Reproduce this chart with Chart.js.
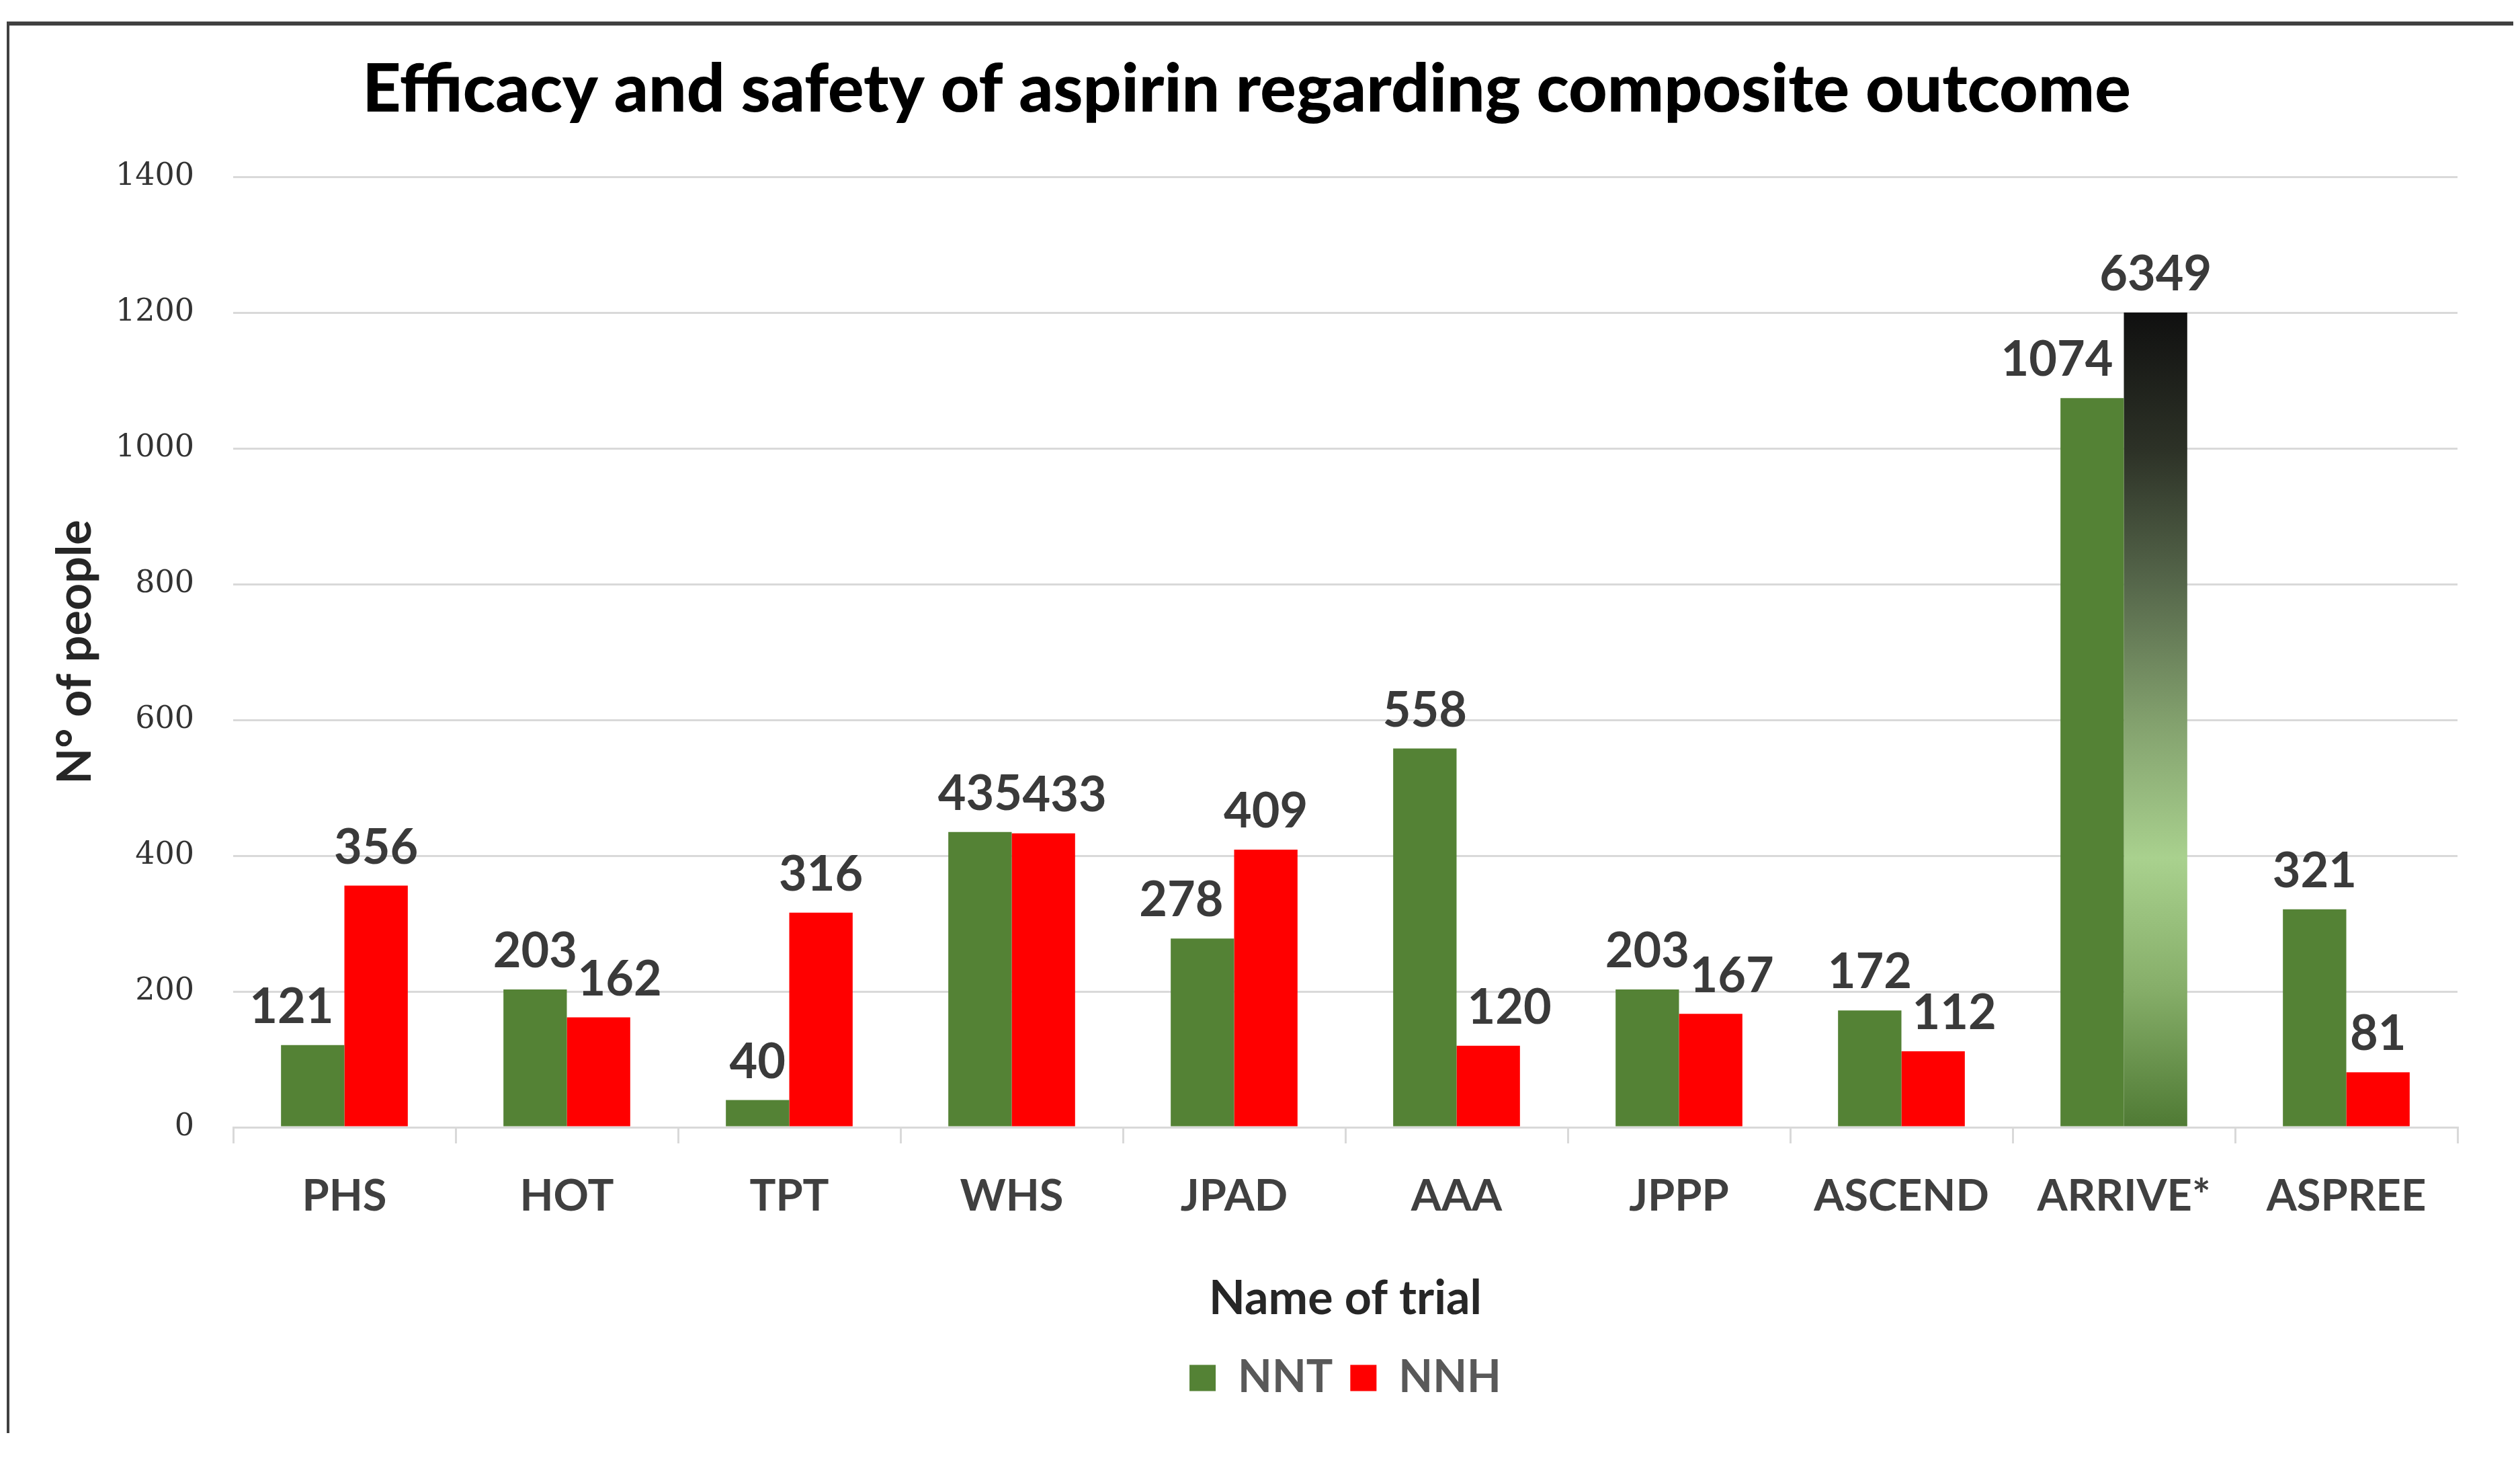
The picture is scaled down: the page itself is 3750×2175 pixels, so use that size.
<!DOCTYPE html>
<html>
<head>
<meta charset="utf-8">
<title>Efficacy and safety of aspirin regarding composite outcome</title>
<script src="https://cdn.jsdelivr.net/npm/chart.js@4.4.0/dist/chart.umd.min.js"></script>
<style>
    html, body { margin: 0; padding: 0; background: #ffffff; }
    #wrap { position: relative; width: 3750px; height: 2175px; }
    #frame {
        position: absolute; left: 10px; top: 32px; width: 3730px; height: 2100px;
        border-top: 6px solid #404040; border-left: 4px solid #404040;
        box-sizing: border-box; pointer-events: none;
    }
</style>
</head>
<body>
<div id="wrap">
    <canvas id="aspirinChart" width="3750" height="2175"></canvas>
    <div id="frame"></div>
</div>
<script>
// Chart data
const trials = ['PHS', 'HOT', 'TPT', 'WHS', 'JPAD', 'AAA', 'JPPP', 'ASCEND', 'ARRIVE*', 'ASPREE'];
const nntValues = [121, 203, 40, 435, 278, 558, 203, 172, 1074, 321];
const nnhValues = [356, 162, 316, 433, 409, 120, 167, 112, 6349, 81];
const yTickValues = [0, 200, 400, 600, 800, 1000, 1200, 1400];
const axisCap = 1200; // bars taller than this are cut off at this value

const nntColor = '#548235';
const nnhColor = '#FF0000';

// Gradient for the cut-off bar (ARRIVE* NNH)
function cutBarFill(context) {
    const chart = context.chart;
    const y = chart.scales.y;
    if (!chart.chartArea || !y) return nnhColor;
    const top = y.getPixelForValue(axisCap);
    const bottom = y.getPixelForValue(0);
    const g = chart.ctx.createLinearGradient(0, top, 0, bottom);
    g.addColorStop(0, '#101010');
    g.addColorStop(0.17, '#2d3227');
    g.addColorStop(0.33, '#55664a');
    g.addColorStop(0.5, '#82a06d');
    g.addColorStop(0.67, '#a9d18e');
    g.addColorStop(0.83, '#86ae69');
    g.addColorStop(1, '#4f7a34');
    return g;
}

// Value labels above bars; the label of the shorter bar is nudged
// sideways so it does not run into its taller neighbour
const barLabels = {
    id: 'barLabels',
    afterDatasetsDraw(chart) {
        const ctx = chart.ctx;
        const metaA = chart.getDatasetMeta(0);
        const metaB = chart.getDatasetMeta(1);
        const rawA = chart.data.datasets[0].rawValues;
        const rawB = chart.data.datasets[1].rawValues;
        const gap = 16;
        const lift = 56;
        ctx.save();
        ctx.font = 'bold 72px Lato';
        ctx.fillStyle = '#3a3a3a';
        ctx.textAlign = 'center';
        ctx.textBaseline = 'middle';
        metaA.data.forEach((a, j) => {
            const b = metaB.data[j];
            const ta = String(rawA[j]);
            const tb = String(rawB[j]);
            const wa = ctx.measureText(ta).width;
            const wb = ctx.measureText(tb).width;
            const boundary = (a.x + a.width / 2 + b.x - b.width / 2) / 2;
            let xa = a.x;
            let xb = b.x;
            if (a.y > b.y && xa + wa / 2 > boundary) {
                xa = boundary - gap - wa / 2;
            } else if (b.y > a.y && xb - wb / 2 < boundary) {
                xb = boundary + gap + wb / 2;
            }
            ctx.fillText(ta, xa, a.y - lift);
            ctx.fillText(tb, xb, b.y - lift);
        });
        ctx.restore();
    }
};

document.addEventListener('DOMContentLoaded', function() {
    const ctx = document.getElementById('aspirinChart');

    new Chart(ctx, {
        type: 'bar',
        data: {
            labels: trials,
            datasets: [
                {
                    label: 'NNT',
                    data: nntValues.map(v => Math.min(v, axisCap)),
                    rawValues: nntValues,
                    backgroundColor: nntColor,
                    categoryPercentage: 0.57,
                    barPercentage: 1.0
                },
                {
                    label: 'NNH',
                    data: nnhValues.map(v => Math.min(v, axisCap)),
                    rawValues: nnhValues,
                    backgroundColor: function(c) {
                        if (c.dataIndex !== undefined && nnhValues[c.dataIndex] > axisCap) {
                            return cutBarFill(c);
                        }
                        return nnhColor;
                    },
                    categoryPercentage: 0.57,
                    barPercentage: 1.0
                }
            ]
        },
        options: {
            responsive: false,
            animation: false,
            layout: {
                padding: { top: 40, left: 53, right: 93, bottom: 82 }
            },
            scales: {
                x: {
                    grid: {
                        offset: true,
                        drawOnChartArea: false,
                        drawTicks: true,
                        tickLength: 24,
                        color: '#d9d9d9',
                        lineWidth: 3
                    },
                    border: { display: true, color: '#d9d9d9', width: 3 },
                    ticks: {
                        color: '#404040',
                        padding: 40,
                        font: { family: 'Lato', weight: 'bold', size: 65 }
                    },
                    title: {
                        display: true,
                        text: 'Name of trial',
                        color: '#262626',
                        font: { family: 'Lato', weight: 'bold', size: 70 },
                        padding: { top: 40, bottom: 17 }
                    },
                    afterFit: function(scale) { scale.height = 314; }
                },
                y: {
                    min: 0,
                    max: 1400,
                    afterBuildTicks: function(scale) {
                        scale.ticks = yTickValues.map(v => ({ value: v }));
                    },
                    grid: {
                        drawTicks: false,
                        color: '#d9d9d9',
                        lineWidth: 3
                    },
                    border: { display: false },
                    ticks: {
                        color: '#333333',
                        padding: 58,
                        font: { family: "'DejaVu Serif'", size: 46 },
                        callback: function(value) { return String(value); }
                    },
                    title: {
                        display: true,
                        text: 'N° of people',
                        color: '#262626',
                        font: { family: 'Lato', weight: 'bold', size: 70 },
                        padding: { top: 17, bottom: 0 }
                    },
                    afterFit: function(scale) { scale.width = 294; }
                }
            },
            plugins: {
                title: {
                    display: true,
                    text: 'Efficacy and safety of aspirin regarding composite outcome',
                    color: '#000000',
                    font: { family: 'Lato', weight: '900', size: 100 },
                    padding: { top: 34, bottom: 69 }
                },
                legend: {
                    position: 'bottom',
                    fullSize: false,
                    labels: {
                        color: '#595959',
                        boxWidth: 39,
                        boxHeight: 39,
                        padding: 26,
                        font: { family: 'Lato', weight: 'bold', size: 66 }
                    }
                },
                tooltip: { enabled: false }
            }
        },
        plugins: [barLabels]
    });
});
</script>
</body>
</html>
